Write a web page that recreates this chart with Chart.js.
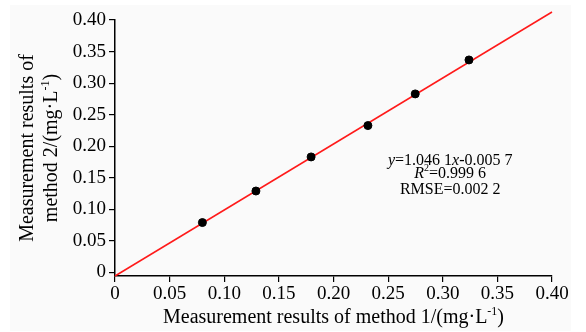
<!DOCTYPE html>
<html>
<head>
<meta charset="utf-8">
<script src="https://cdn.jsdelivr.net/npm/chart.js@4/dist/chart.umd.min.js"></script>
<style>
html,body{margin:0;padding:0;background:#ffffff;}
#wrap{width:586px;height:332px;position:relative;}
</style>
</head>
<body>
<div id="wrap"><canvas id="c" width="586" height="332"></canvas></div>
<script>
// Data
const method1 = [0.080, 0.129, 0.1795, 0.2315, 0.2748, 0.324];
const method2 = [0.079, 0.129, 0.183, 0.2327, 0.2829, 0.3367];
const fitX = [0, 0.40];
const fitY = [-0.0057, 0.4127];
const xTicks = [0, 0.05, 0.10, 0.15, 0.20, 0.25, 0.30, 0.35, 0.40];
const yTicks = [0, 0.05, 0.10, 0.15, 0.20, 0.25, 0.30, 0.35, 0.40];
const eqLines = [
  [{t:'y',i:true},{t:'=1.046 1'},{t:'x',i:true},{t:'-0.005 7'}],
  [{t:'R',i:true},{t:'2',sup:true},{t:'=0.999 6'}],
  [{t:'RMSE=0.002 2'}]
];
const xTitle = [{t:'Measurement results of method 1/(mg·L'},{t:'-1',sup:true},{t:')'}];
const yTitle1 = [{t:'Measurement results of'}];
const yTitle2 = [{t:'method 2/(mg·L'},{t:'-1',sup:true},{t:')'}];

const FAM = '"Liberation Serif", "Times New Roman", serif';
const fmt = v => Math.abs(v) < 1e-9 ? '0' : v.toFixed(2);

function drawRich(ctx, parts, cx, cy, size){
  const main = size + 'px ' + FAM;
  const small = Math.round(size*0.62) + 'px ' + FAM;
  let w = 0;
  parts.forEach(p=>{
    ctx.font = (p.i?'italic ':'') + (p.sup?small:main);
    p.w = ctx.measureText(p.t).width; w += p.w;
  });
  let x = cx - w/2;
  ctx.textBaseline = 'middle';
  ctx.textAlign = 'left';
  parts.forEach(p=>{
    ctx.font = (p.i?'italic ':'') + (p.sup?small:main);
    ctx.fillText(p.t, x, p.sup ? cy - size*0.33 : cy);
    x += p.w;
  });
}

const deco = {
  id:'deco',
  beforeDraw(chart){
    const ctx = chart.ctx;
    ctx.save();
    ctx.fillStyle = '#fafafa';
    ctx.fillRect(10, 5, 561, 326);
    ctx.restore();
  },
  afterDraw(chart){
    const ctx = chart.ctx;
    const ca = chart.chartArea;
    ctx.save();
    ctx.fillStyle = '#000';
    const xs = chart.scales.x;
    const ys = chart.scales.y;
    const cx = (ca.left + ca.right)/2;
    drawRich(ctx, xTitle, cx, 318, 20);
    const cy = (ca.top + ca.bottom)/2;
    ctx.save();
    ctx.translate(28, cy);
    ctx.rotate(-Math.PI/2);
    drawRich(ctx, yTitle1, 0, 0, 20);
    ctx.restore();
    ctx.save();
    ctx.translate(52, cy);
    ctx.rotate(-Math.PI/2);
    drawRich(ctx, yTitle2, 0, 0, 20);
    ctx.restore();
    // equation annotation
    const ex = xs.getPixelForValue(0.3068);
    drawRich(ctx, eqLines[0], ex, ys.getPixelForValue(0.177), 16);
    drawRich(ctx, eqLines[1], ex, ys.getPixelForValue(0.156), 16);
    drawRich(ctx, eqLines[2], ex, ys.getPixelForValue(0.131), 16);
    ctx.restore();
  }
};

new Chart(document.getElementById('c'), {
  type:'scatter',
  data:{
    datasets:[
      {
        label:'fit',
        data: fitX.map((x,i)=>({x:x, y:fitY[i]})),
        showLine:true,
        borderColor:'#ff1a1a',
        borderWidth:1.5,
        pointRadius:0,
        clip:false,
        order:2
      },
      {
        label:'points',
        data: method1.map((x,i)=>({x:x, y:method2[i]})),
        backgroundColor:'#000',
        borderColor:'#000',
        pointRadius:4,
        order:1
      }
    ]
  },
  options:{
    responsive:false,
    animation:false,
    events:[],
    layout:{padding:{left:0, top:20, right:34, bottom:0}},
    plugins:{legend:{display:false}, tooltip:{enabled:false}},
    scales:{
      x:{
        type:'linear', min:0, max:0.40,
        afterBuildTicks(s){ s.ticks = xTicks.map(v=>({value:v})); },
        afterFit(s){ s.height = 56; },
        grid:{display:true, drawOnChartArea:false, drawTicks:true, tickLength:6, color:'#000', lineWidth:1.2},
        border:{display:true, color:'#000', width:1.5},
        ticks:{color:'#000', font:{family:FAM, size:19}, padding:1, maxRotation:0, autoSkip:false, callback:v=>fmt(v)}
      },
      y:{
        type:'linear', min:-0.0057, max:0.40,
        afterBuildTicks(s){ s.ticks = yTicks.map(v=>({value:v})); },
        afterFit(s){ s.width = 115; },
        grid:{display:true, drawOnChartArea:false, drawTicks:true, tickLength:6, color:'#000', lineWidth:1.2},
        border:{display:true, color:'#000', width:1.5},
        ticks:{color:'#000', font:{family:FAM, size:19}, padding:3, autoSkip:false, callback:v=>fmt(v)}
      }
    }
  },
  plugins:[deco]
});
</script>
</body>
</html>
